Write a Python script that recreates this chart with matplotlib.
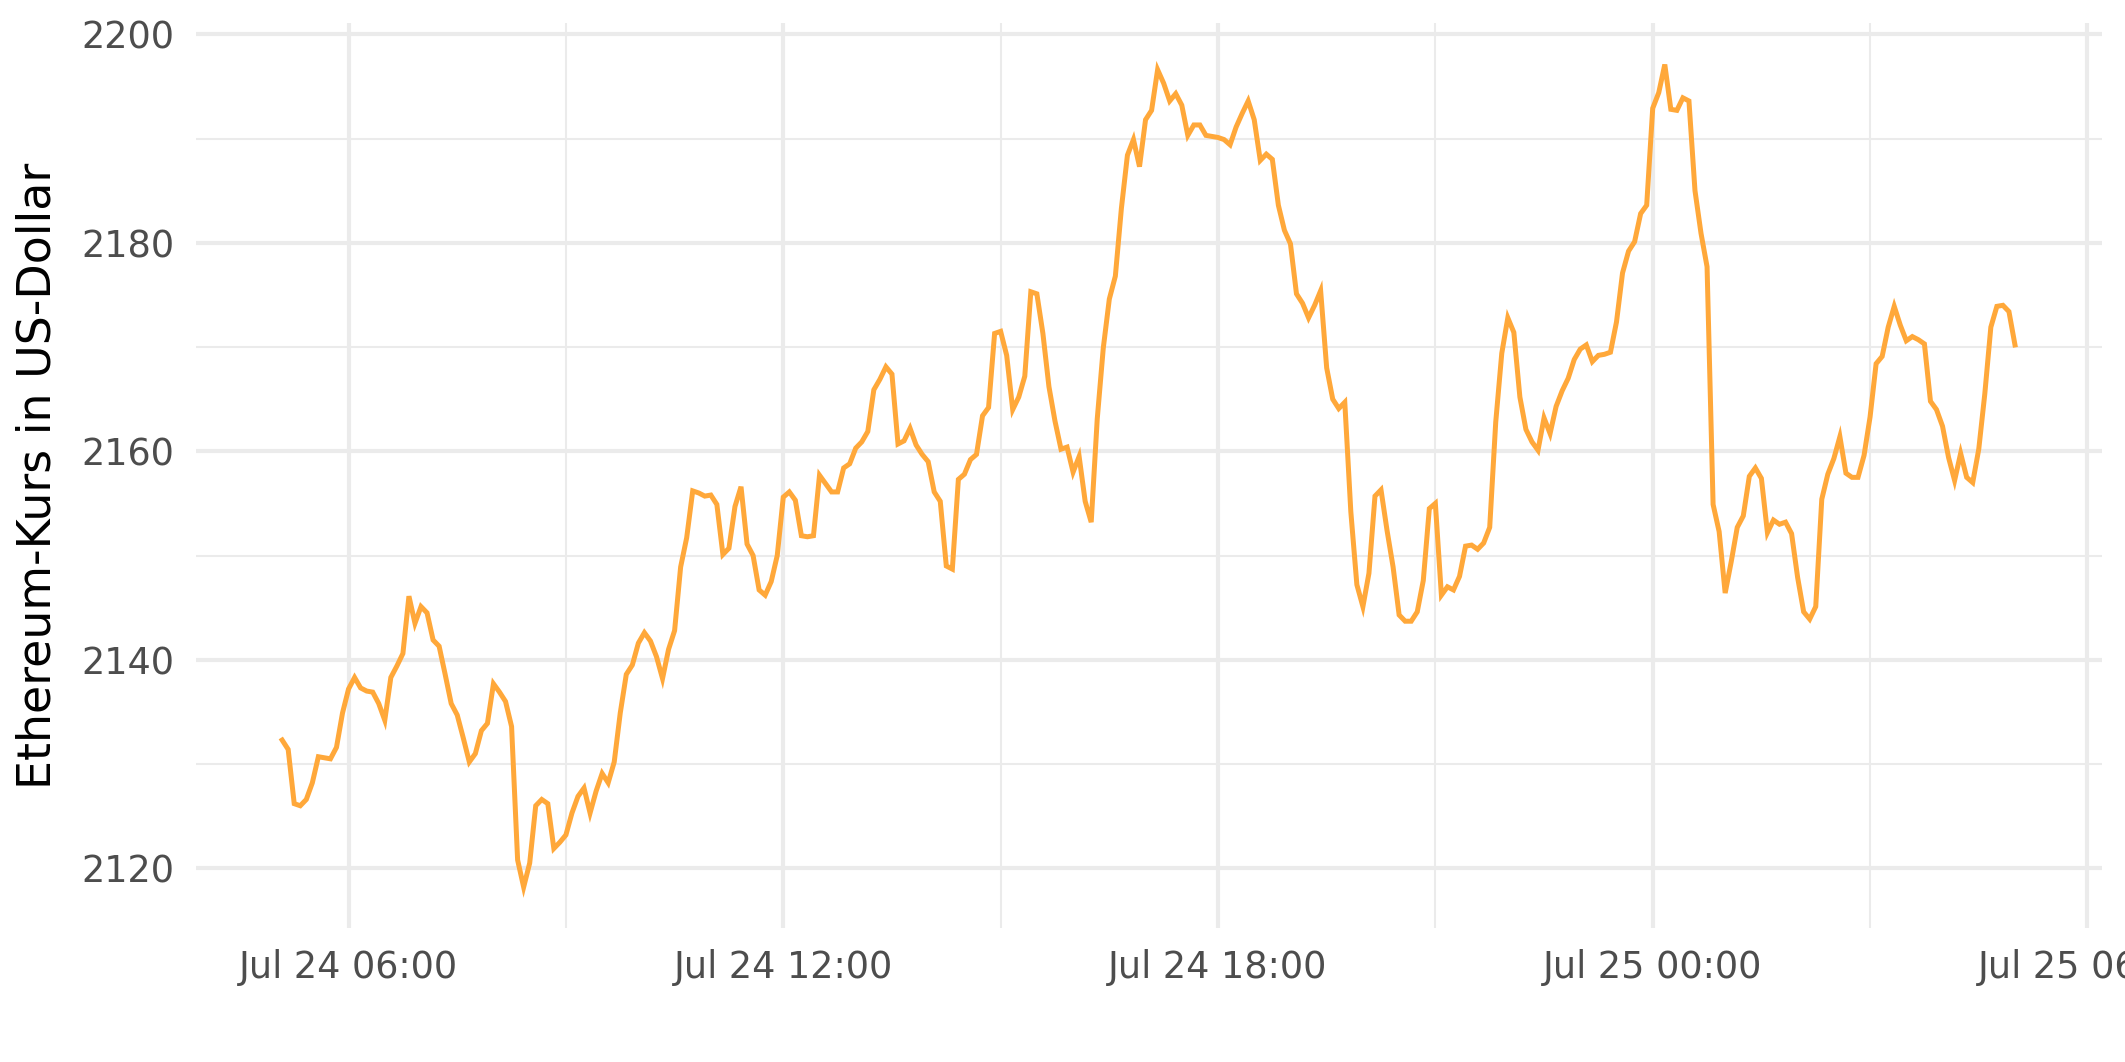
import numpy as np
import pandas as pd
import matplotlib
matplotlib.use('Agg')
import matplotlib.pyplot as plt
import matplotlib.dates as mdates

# ETH price, 5-minute steps, Jul 24 05:05 -> Jul 25 05:00
prices = [
    2132.3, 2131.4, 2126.2, 2126.0, 2126.6, 2128.2, 2130.7, 2130.6, 2130.5, 2131.6,
    2134.9, 2137.2, 2138.3, 2137.3, 2137.0, 2136.9, 2135.8, 2134.2, 2138.3, 2139.4,
    2140.6, 2146.1, 2143.5, 2145.1, 2144.5, 2141.9, 2141.3, 2138.6, 2135.8, 2134.7,
    2132.5, 2130.2, 2131.0, 2133.2, 2133.9, 2137.7, 2136.9, 2136.0, 2133.6, 2120.8,
    2118.2, 2120.5, 2126.0, 2126.6, 2126.2, 2121.9, 2122.5, 2123.2, 2125.3, 2126.9,
    2127.7, 2125.3, 2127.4, 2129.1, 2128.2, 2130.2, 2134.9, 2138.6, 2139.5, 2141.6,
    2142.6, 2141.8, 2140.3, 2138.2, 2141.0,
    2142.8, 2148.9, 2151.7, 2156.2, 2156.0, 2155.7, 2155.8, 2154.9, 2150.1, 2150.7,
    2154.7, 2156.6, 2151.1, 2150.0, 2146.7, 2146.2, 2147.5, 2150.0, 2155.6, 2156.1,
    2155.3, 2151.9, 2151.8, 2151.9, 2157.7, 2156.9, 2156.1, 2156.1, 2158.4, 2158.8,
    2160.3, 2160.9, 2161.9, 2165.9, 2166.9, 2168.1, 2167.4, 2160.7, 2161.0, 2162.2,
    2160.6, 2159.7, 2159.0, 2156.1, 2155.2, 2149.0, 2148.7, 2157.3, 2157.8, 2159.2,
    2159.7,
    2163.4, 2164.2, 2171.3, 2171.5, 2169.2, 2164.0, 2165.2, 2167.2, 2175.3, 2175.1,
    2171.3, 2166.2, 2162.9, 2160.2, 2160.4, 2158.0, 2159.5, 2155.2, 2153.2, 2163.1,
    2169.9, 2174.6, 2176.8, 2183.3, 2188.4, 2189.9, 2187.3, 2191.8, 2192.7, 2196.6,
    2195.3, 2193.6, 2194.3, 2193.2, 2190.3, 2191.3, 2191.3, 2190.3, 2190.2, 2190.1,
    2189.9, 2189.4, 2191.1, 2192.4, 2193.6, 2191.8, 2187.9, 2188.5, 2188.0, 2183.6,
    2181.2, 2179.9, 2175.1, 2174.2, 2172.8, 2174.0, 2175.4, 2168.0,
    2165.0, 2164.1, 2164.7, 2154.2, 2147.2, 2145.1, 2148.3, 2155.7, 2156.3, 2152.4,
    2148.9, 2144.3, 2143.7, 2143.7, 2144.6, 2147.6, 2154.5, 2155.0, 2146.2, 2147.0,
    2146.7, 2148.0, 2150.9, 2151.0, 2150.6, 2151.2, 2152.7, 2162.8, 2169.4, 2172.8,
    2171.4, 2165.2, 2162.1, 2160.9, 2160.1, 2163.2, 2161.7, 2164.3, 2165.8, 2167.0,
    2168.8, 2169.8, 2170.2, 2168.6, 2169.2, 2169.3, 2169.5, 2172.4, 2177.1, 2179.2,
    2180.1, 2182.8, 2183.6, 2192.9,
    2194.4, 2197.1, 2192.8, 2192.7, 2193.9, 2193.6, 2185.0, 2180.9, 2177.7, 2154.9,
    2152.3, 2146.4, 2149.4, 2152.7, 2153.8, 2157.6, 2158.4, 2157.4, 2152.2, 2153.4,
    2153.0, 2153.2, 2152.1, 2147.9, 2144.6, 2143.9, 2145.1, 2155.4, 2157.8, 2159.3,
    2161.4, 2157.9, 2157.5, 2157.5, 2159.6, 2163.3, 2168.4, 2169.1, 2171.9, 2173.9,
    2172.1, 2170.6, 2171.0, 2170.7, 2170.3, 2164.8, 2164.0, 2162.4, 2159.4, 2157.2,
    2159.8, 2157.5, 2157.0, 2160.2, 2165.5, 2171.9, 2173.9, 2174.0, 2173.4, 2170.2,
]
times = pd.date_range('2024-07-24 05:05', '2024-07-25 05:00', periods=len(prices))

y_ticks = [2120, 2140, 2160, 2180, 2200]

fig = plt.figure(figsize=(2125 / 300, 1062 / 300), dpi=300)
ax = fig.add_axes([0.092, 0.126, 0.897, 0.852])

ax.plot(times, prices, color='#ffa83a', lw=1.2, solid_joinstyle='miter')

span = times[-1] - times[0]
ax.set_xlim(times[0] - span * 0.05, times[-1] + span * 0.05)
lo, hi = min(prices), max(prices)
ax.set_ylim(lo - (hi - lo) * 0.05, hi + (hi - lo) * 0.05)

ax.xaxis.set_major_locator(mdates.HourLocator(byhour=[0, 6, 12, 18]))
ax.xaxis.set_minor_locator(mdates.HourLocator(byhour=[3, 9, 15, 21]))
ax.xaxis.set_major_formatter(mdates.DateFormatter('%b %d %H:%M'))
ax.set_yticks(y_ticks)
ax.set_yticks([2130, 2150, 2170, 2190], minor=True)

ax.grid(which='major', color='#ebebeb', lw=1.0)
ax.grid(which='minor', color='#ebebeb', lw=0.5)
ax.set_axisbelow(True)
for s in ax.spines.values():
    s.set_visible(False)
ax.tick_params(which='both', length=0, labelsize=8.8, labelcolor='#4d4d4d', pad=5)
ax.set_ylabel('Ethereum-Kurs in US-Dollar', fontsize=11, labelpad=5)

fig.savefig('out.png', dpi=300)
